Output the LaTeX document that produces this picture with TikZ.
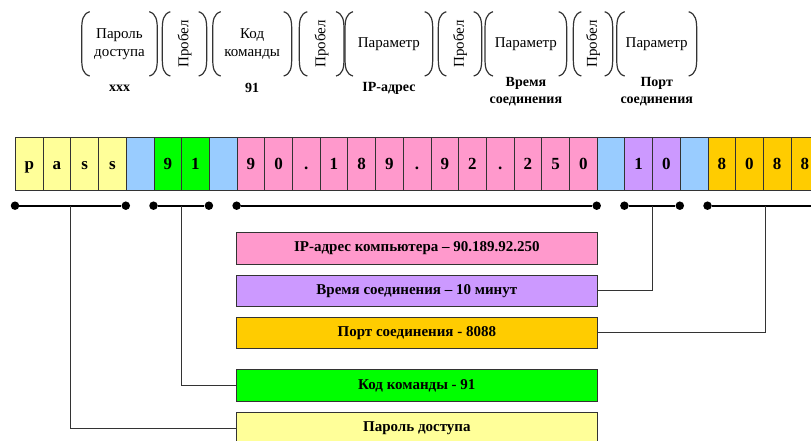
\documentclass[tikz,border=0pt]{standalone}
\usepackage{fontspec}
\setmainfont{Liberation Serif}
\usetikzlibrary{calc}
\definecolor{cy}{HTML}{FFFF99}
\definecolor{cb}{HTML}{99CCFF}
\definecolor{cg}{HTML}{00FF00}
\definecolor{cp}{HTML}{FF99CC}
\definecolor{cl}{HTML}{CC99FF}
\definecolor{co}{HTML}{FFCC00}
\definecolor{lc}{HTML}{333333}
\newcommand{\parpair}[2]{%
  \draw[brk] ({#1+8},11.7) .. controls ({#1+1},14) and (#1,20) .. (#1,30) -- (#1,58)
     .. controls (#1,68) and ({#1+1},74) .. ({#1+8},76);
  \draw[brk] ({#2-8},11.7) .. controls ({#2-1},14) and (#2,20) .. (#2,30) -- (#2,58)
     .. controls (#2,68) and ({#2-1},74) .. ({#2-8},76);
}
\begin{document}
\begin{tikzpicture}[x=1pt,y=-1pt,
  cell/.style={draw=lc, line width=0.8pt, minimum width=27.7pt, minimum height=53.3pt,
    inner sep=0pt, text height=12pt, text depth=0pt, anchor=north west,
    font=\fontsize{17}{20}\selectfont\bfseries},
  box/.style={draw=lc, line width=1pt, minimum width=360.7pt, minimum height=31.4pt,
    inner sep=0pt, anchor=north west, font=\fontsize{15}{18}\selectfont\bfseries},
  dot/.style={circle, fill=black, inner sep=0pt, minimum size=8.5pt},
  barline/.style={line width=1.8pt, black},
  conn/.style={line width=1.1pt, lc},
  brk/.style={line width=1.2pt, lc},
  ptext/.style={font=\fontsize{15}{18}\selectfont, align=center, inner sep=0pt},
  lbl/.style={font=\fontsize{14}{17}\selectfont\bfseries, align=center, inner sep=0pt}]
\useasboundingbox (0,0) rectangle (811,441);
\clip (0,0) rectangle (811,441);
\fill[white] (0,0) rectangle (811,441);

% top brackets
\parpair{81.7}{157.3}
\parpair{162.3}{206.7}
\parpair{212.7}{291.7}
\parpair{299.3}{344}
\parpair{345}{432.7}
\parpair{438.3}{481.7}
\parpair{485}{566.7}
\parpair{573.3}{612.7}
\parpair{616.7}{696.7}
\node[ptext] (t1) at (119.5,43.8) {Пароль\\доступа};
\node[ptext, rotate=90] (t2) at (184.5,43.8) {Пробел};
\node[ptext] (t3) at (252.2,43.8) {Код\\команды};
\node[ptext, rotate=90] (t4) at (321.7,43.8) {Пробел};
\node[ptext] (t5) at (388.9,43.8) {Параметр};
\node[ptext, rotate=90] (t6) at (460,43.8) {Пробел};
\node[ptext] (t7) at (525.9,43.8) {Параметр};
\node[ptext, rotate=90] (t8) at (593,43.8) {Пробел};
\node[ptext] (t9) at (656.7,43.8) {Параметр};
\node[lbl] (l1) at (119.5,88) {xxx};
\node[lbl] (l2) at (252.2,88) {91};
\node[lbl] (l3) at (388.9,88) {IP-адрес};
\node[lbl] (l4) at (525.9,92) {Время\\соединения};
\node[lbl] (l5) at (656.7,92) {Порт\\соединения};

% cells
\foreach \t/\c [count=\i from 0] in {p/cy,a/cy,s/cy,s/cy,/cb,9/cg,1/cg,/cb,9/cp,0/cp,./cp,1/cp,8/cp,9/cp,./cp,9/cp,2/cp,./cp,2/cp,5/cp,0/cp,/cb,1/cl,0/cl,/cb,8/co,0/co,8/co,8/co}
  \node[cell, fill=\c] (c\i) at ({15+27.7*\i},136.7) {\t};

% bars with dots
\coordinate (bar) at (0,205.7);
\node[dot] (d0) at (c0.south west |- bar) {};
\node[dot] (d1) at (c4.south west |- bar) {};
\node[dot] (d2) at (c5.south west |- bar) {};
\node[dot] (d3) at (c7.south west |- bar) {};
\node[dot] (d4) at (c8.south west |- bar) {};
\node[dot] (d5) at (c21.south west |- bar) {};
\node[dot] (d6) at (c22.south west |- bar) {};
\node[dot] (d7) at (c24.south west |- bar) {};
\node[dot] (d8) at (c25.south west |- bar) {};
\coordinate (e8) at (820,205.7);
\draw[barline] (d0) -- (d1);
\draw[barline] (d2) -- (d3);
\draw[barline] (d4) -- (d5);
\draw[barline] (d6) -- (d7);
\draw[barline] (d8) -- (e8);

% description boxes
\node[box, fill=cp] (bip) at (236,232.3) {IP-адрес компьютера – 90.189.92.250};
\node[box, fill=cl] (btime) at (236,274.7) {Время соединения – 10 минут};
\node[box, fill=co] (bport) at (236,316.7) {Порт соединения - 8088};
\node[box, fill=cg] (bcmd) at (236,369.3) {Код команды - 91};
\node[box, fill=cy] (bpass) at (236,412) {Пароль доступа};

% connectors
\coordinate (kpass) at ($(d0)!0.5!(d1)$);
\coordinate (kcmd) at ($(d2)!0.5!(d3)$);
\coordinate (ktime) at ($(d6)!0.5!(d7)$);
\coordinate (kport) at (765.7,205.7);
\draw[conn] (kpass) |- (bpass.west);
\draw[conn] (kcmd) |- (bcmd.west);
\draw[conn] (ktime) |- (btime.east);
\draw[conn] (kport) |- (bport.east);
\end{tikzpicture}
\end{document}
